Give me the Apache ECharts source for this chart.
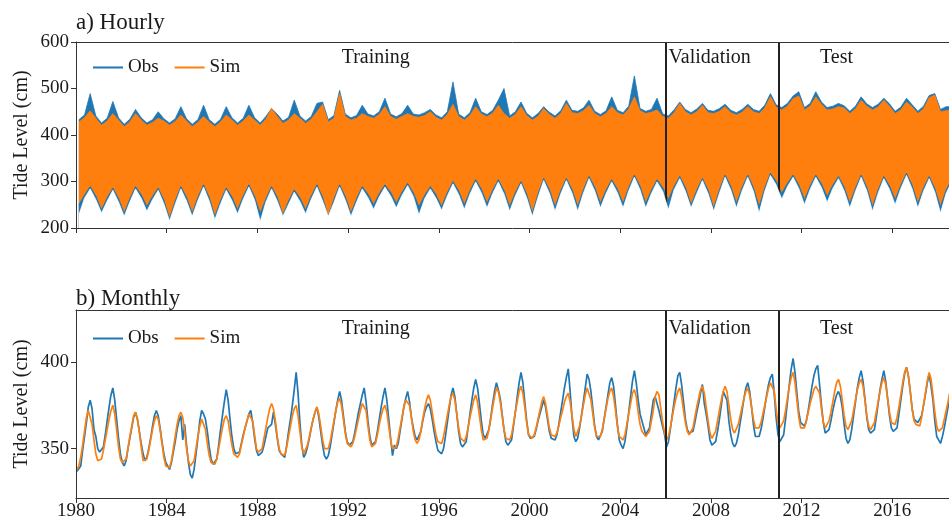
<!DOCTYPE html>
<html>
<head>
<meta charset="utf-8">
<script src="https://cdn.jsdelivr.net/npm/echarts@6.0.0/dist/echarts.min.js"></script>
<style>
html, body { margin: 0; padding: 0; background: #fff; }
#chart { width: 949px; height: 523px; }
</style>
</head>
<body>
<div id="chart"></div>
<script>
var startYear = 1980;
var xMin = 1980, xMax = 2018.5;   // the figure is cut off just after mid-2018
var periodNames = ['Training', 'Validation', 'Test'];
var periodBreaks = [1980, 2006, 2011, 2018.5];

// hourly panel: envelope of the dense hourly trace, 4 readings per year (1980-2018)
var obsHourlyHigh = [
  433,443,489,441, 426,436,472,437, 423,434,455,437, 426,433,450,435, 426,435,461,435,
  423,433,464,433, 423,434,461,437, 426,436,464,437, 426,440,457,445, 430,438,475,441,
  430,440,468,471, 433,442,496,445, 437,442,464,445, 441,450,479,445, 439,446,464,445,
  443,448,455,443, 437,450,514,445, 437,448,479,450, 444,453,475,500, 441,450,471,447,
  437,446,461,449, 441,452,475,453, 451,458,475,451, 444,452,482,453, 448,462,527,457,
  451,455,479,445, 441,454,471,455, 448,456,468,453, 451,457,466,453, 448,455,466,455,
  451,464,489,465, 459,468,484,493, 459,468,493,471, 459,462,468,463, 451,462,482,467,
  459,466,479,467, 451,460,479,465, 451,462,485,489, 455,461,461,455
];
var obsHourlyLow = [
  228,264,284,261, 232,258,281,256, 225,256,284,264, 236,261,281,252, 215,251,284,258,
  225,259,288,258, 218,252,281,259, 230,262,288,260, 214,256,284,258, 225,251,277,257,
  230,262,288,258, 225,255,288,260, 225,256,284,265, 240,267,288,269, 243,270,291,268,
  228,263,284,264, 238,269,295,272, 240,273,299,276, 243,274,299,273, 236,269,295,265,
  225,266,302,275, 236,273,302,275, 236,275,306,280, 243,274,299,276, 243,280,309,282,
  243,274,299,279, 239,282,306,279, 243,274,302,274, 236,275,309,282, 243,280,309,279,
  232,279,313,293, 262,289,309,285, 250,283,309,287, 255,285,306,280, 243,279,309,280,
  236,275,306,283, 250,285,313,284, 243,279,306,277, 232,275,300,277
];
var simHourlyHigh = [
  428,437,452,436, 421,430,446,432, 418,428,446,432, 421,427,436,430, 421,429,443,430,
  418,427,440,428, 418,428,443,432, 421,430,443,432, 421,434,457,440, 425,432,446,436,
  425,434,450,466, 428,436,489,440, 432,436,446,440, 436,444,461,440, 434,440,446,440,
  438,442,450,438, 432,444,466,440, 432,442,461,445, 439,447,464,446, 436,444,461,442,
  432,440,457,444, 436,446,468,448, 446,452,464,446, 439,446,461,448, 443,456,482,452,
  446,449,454,440, 436,448,468,450, 443,450,464,448, 446,451,461,448, 443,449,461,450,
  446,458,482,460, 454,462,478,484, 454,462,482,466, 454,456,461,458, 446,456,475,462,
  454,460,475,462, 446,454,471,460, 446,456,480,486, 450,452,455,450
];
var simHourlyLow = [
  250,271,289,269, 239,265,286,264, 232,263,289,272, 246,268,286,260, 221,258,289,266,
  232,266,293,266, 225,259,286,267, 239,269,293,268, 232,263,289,266, 228,258,282,265,
  239,269,293,266, 225,262,293,268, 232,263,289,273, 250,274,293,277, 253,277,296,276,
  246,270,289,272, 246,276,300,280, 250,280,304,284, 253,281,304,281, 246,276,300,273,
  232,273,307,283, 246,280,307,283, 246,282,311,288, 253,281,304,284, 253,287,314,290,
  253,281,304,287, 261,289,311,287, 250,281,307,282, 243,282,314,290, 253,287,314,287,
  246,286,318,301, 275,296,314,293, 261,290,314,295, 268,292,311,288, 253,286,314,288,
  246,282,311,291, 261,292,318,292, 253,286,311,285, 246,282,305,285
];

// monthly panel: Jan..Dec for each year 1980-2018
var obsMonthly = [
  337,336,340,349,357,365,374,378,373,361,357,350,
  348,347,351,358,366,374,381,385,378,367,356,347,
  342,340,343,350,356,362,368,371,367,360,353,347,
  343,345,350,356,363,369,372,369,362,354,347,342,
  340,338,342,348,354,361,366,369,355,364,352,342,
  335,333,338,347,356,366,372,370,367,360,351,344,
  341,340,344,352,361,369,377,384,378,367,357,350,
  347,346,348,353,358,362,366,370,372,365,356,349,
  346,345,348,352,357,362,363,364,371,364,356,349,
  347,346,345,352,360,367,375,384,394,382,365,352,
  345,347,351,356,362,367,371,374,368,360,352,346,
  344,346,351,358,365,372,378,383,378,369,360,354,
  352,351,354,359,365,371,376,381,385,377,366,357,
  352,351,354,360,367,374,380,385,378,367,356,346,
  352,350,353,360,367,374,379,383,377,368,362,357,
  355,356,360,366,371,374,376,373,367,360,354,349,
  348,347,350,357,365,373,381,385,380,370,360,353,
  351,350,354,362,370,378,385,390,385,376,366,358,
  356,357,361,368,376,383,388,384,379,370,361,354,
  352,351,355,363,371,380,388,394,388,377,366,358,
  356,355,357,361,366,370,374,378,374,367,360,356,
  356,355,358,364,371,378,385,391,396,383,368,357,
  354,356,362,369,377,385,393,390,383,373,363,357,
  355,356,360,367,374,381,388,391,386,375,364,355,
  352,350,354,362,371,380,389,395,388,378,370,366,
  362,358,358,362,370,378,380,380,372,367,366,358,
  351,354,361,369,377,385,392,394,387,377,367,361,
  359,358,360,365,371,376,382,387,376,370,363,355,
  352,351,354,360,367,375,383,384,378,366,358,353,
  351,353,358,365,372,379,385,388,383,374,364,357,
  356,357,361,367,374,381,387,391,393,382,368,358,
  354,353,358,367,377,387,396,402,394,382,371,365,
  364,363,366,372,379,386,392,396,398,387,375,365,
  359,358,361,366,372,377,381,383,380,374,364,356,
  353,355,361,369,377,385,391,395,389,379,368,361,
  359,358,361,368,376,384,390,395,389,379,369,362,
  360,359,362,370,378,386,393,397,392,383,373,367,
  366,365,364,369,375,381,388,393,386,378,366,357,
  355,353,357,362,368,374,382,388,384,375,366,360
];
var simMonthly = [
  338,340,345,352,360,368,372,371,364,355,347,343,
  343,344,349,355,361,367,372,375,370,361,351,344,
  342,341,344,350,357,363,369,371,367,360,351,343,
  342,344,349,355,361,366,369,367,361,353,345,340,
  339,339,343,350,357,364,369,371,368,360,350,343,
  340,339,343,350,357,363,367,366,361,353,346,342,
  342,341,344,350,356,362,367,369,366,359,352,347,
  346,345,347,352,357,362,366,370,371,366,358,350,
  348,347,350,356,362,368,373,376,373,366,357,350,
  347,346,346,351,357,363,369,373,375,369,360,351,
  347,348,352,357,362,367,371,374,370,363,355,350,
  349,350,354,360,366,372,377,379,375,367,359,353,
  352,351,353,357,362,367,372,376,377,372,363,355,
  351,350,353,358,364,369,373,375,371,363,355,350,
  349,351,356,362,368,374,378,379,375,368,360,355,
  353,355,360,367,373,378,381,378,371,364,358,354,
  353,353,357,363,369,375,380,382,378,370,362,356,
  355,354,357,362,368,373,378,381,377,369,361,355,
  355,356,361,367,374,380,385,383,377,369,361,356,
  356,355,358,364,371,377,383,386,382,374,365,358,
  357,356,358,362,367,372,377,380,376,369,362,358,
  358,357,359,363,368,372,377,380,382,377,369,361,
  357,358,363,369,375,381,385,384,378,370,362,357,
  356,357,361,367,373,379,383,385,380,372,363,357,
  356,355,358,364,370,376,382,384,380,371,364,360,
  359,357,357,360,366,372,380,383,381,373,365,359,
  355,357,362,368,374,379,383,385,380,372,365,360,
  358,358,362,368,374,379,384,386,382,374,366,359,
  356,356,360,366,372,378,383,386,383,375,367,361,
  359,360,364,369,374,379,383,385,381,374,367,362,
  361,362,365,370,375,380,385,388,389,383,373,365,
  362,362,366,372,379,386,391,394,388,378,368,362,
  361,362,366,371,376,380,384,386,387,382,373,365,
  362,362,366,371,377,383,388,390,386,378,369,363,
  361,362,366,372,378,384,388,390,386,378,369,363,
  361,361,365,371,377,383,388,391,387,379,371,365,
  364,364,368,374,381,388,394,397,392,383,373,366,
  364,363,363,368,375,382,389,394,390,381,371,363,
  360,359,362,367,372,377,383,388,385,377,369,363
];

var blue = '#1f77b4';
var orange = '#ff7f0e';
var ink = '#1a1a1a';
var frame = '#333';
var serif = '"Liberation Serif", "Times New Roman", serif';

function toPoints(vals, perYear) {
  var out = [];
  for (var i = 0; i < vals.length; i++) {
    out.push([startYear + (i + 0.5) / perYear, vals[i]]);
  }
  return out;
}

// filled envelope pieces: each area runs down to the axis floor,
// later ones paint over earlier ones
function envelope(name, vals, color, z) {
  return {
    name: name, type: 'line', xAxisIndex: 0, yAxisIndex: 0, z: z,
    symbol: 'none', silent: true, color: color,
    lineStyle: {width: 0.8, color: color},
    areaStyle: {color: color, opacity: 1, origin: 'start'},
    data: toPoints(vals, 4)
  };
}

function periodMarks(xi, yi, dy) {
  var lines = [], areas = [];
  for (var i = 1; i < periodBreaks.length - 1; i++) lines.push({xAxis: periodBreaks[i]});
  var labelPos = [
    {position: 'insideTop', distance: 6, offset: [5, dy]},
    {position: 'insideTopLeft', distance: 3, offset: [0, 3 + dy]},
    {position: 'insideTopLeft', distance: 3, offset: [38, 3 + dy]}
  ];
  for (var j = 0; j < periodNames.length; j++) {
    areas.push([
      {name: periodNames[j], xAxis: periodBreaks[j], label: labelPos[j]},
      {xAxis: periodBreaks[j + 1]}
    ]);
  }
  return {
    name: 'periods', type: 'line', xAxisIndex: xi, yAxisIndex: yi, z: 8,
    silent: true, data: [],
    markLine: {
      silent: true, symbol: ['none', 'none'], label: {show: false},
      lineStyle: {color: '#222', width: 2, type: 'solid'},
      data: lines
    },
    markArea: {
      silent: true,
      itemStyle: {color: 'rgba(0,0,0,0)'},
      label: {show: true, color: ink, fontFamily: serif, fontSize: 20},
      data: areas
    }
  };
}

function xAxisCfg(idx, showLabels) {
  return {
    type: 'value', gridIndex: idx, min: xMin, max: xMax, interval: 4, z: 10,
    splitLine: {show: false},
    axisLine: {onZero: false, lineStyle: {color: frame, width: 1}},
    axisTick: {show: true, inside: false, length: 5, lineStyle: {color: frame}},
    axisLabel: {
      show: showLabels, color: ink, fontFamily: serif, fontSize: 19, margin: 4,
      showMaxLabel: false,
      formatter: function (v) { return String(v); }
    }
  };
}
// plain top spine
function topSpine(idx) {
  return {
    type: 'value', gridIndex: idx, position: 'top', min: xMin, max: xMax, z: 10,
    splitLine: {show: false}, axisTick: {show: false}, axisLabel: {show: false},
    axisLine: {show: true, onZero: false, lineStyle: {color: frame, width: 1}}
  };
}

function yAxisCfg(idx, extra) {
  var base = {
    type: 'value', gridIndex: idx, z: 10,
    name: 'Tide Level (cm)', nameLocation: 'middle', nameGap: 44, nameRotate: 90,
    nameMoveOverlap: false,
    nameTextStyle: {color: ink, fontFamily: serif, fontSize: 20},
    splitLine: {show: false},
    axisLine: {show: true, onZero: false, lineStyle: {color: frame, width: 1}},
    axisTick: {show: true, inside: false, length: 5, lineStyle: {color: frame}},
    axisLabel: {color: ink, fontFamily: serif, fontSize: 19, margin: 7}
  };
  for (var k in extra) {
    if (k === 'axisLabel' || k === 'axisTick') {
      for (var kk in extra[k]) base[k][kk] = extra[k][kk];
    } else base[k] = extra[k];
  }
  return base;
}

var legendCfg = function (top) {
  return {
    data: ['Obs', 'Sim'], left: 93, top: top, icon: 'rect', padding: 0,
    itemWidth: 30, itemHeight: 2, itemGap: 16,
    textStyle: {color: ink, fontFamily: serif, fontSize: 19}
  };
};

var option = {
  backgroundColor: '#fff',
  animation: false,
  title: [
    {text: 'a) Hourly', left: 76, top: 11, padding: 0,
     textStyle: {color: ink, fontFamily: serif, fontSize: 23, fontWeight: 'normal'}},
    {text: 'b) Monthly', left: 76, top: 287, padding: 0,
     textStyle: {color: ink, fontFamily: serif, fontSize: 23, fontWeight: 'normal'}}
  ],
  legend: [legendCfg(58), legendCfg(329)],
  grid: [
    {left: 76, right: 0, top: 42, height: 186, outerBoundsMode: 'none'},
    {left: 76, right: 0, top: 310, height: 188, outerBoundsMode: 'none'}
  ],
  xAxis: [xAxisCfg(0, false), xAxisCfg(1, true), topSpine(0), topSpine(1)],
  yAxis: [
    yAxisCfg(0, {min: 200, max: 600, interval: 100}),
    yAxisCfg(1, {min: 321.5, max: 430,
      axisLabel: {customValues: [350, 400]},
      axisTick: {customValues: [350, 400]}})
  ],
  series: [
    envelope('Obs', obsHourlyHigh, blue, 2),
    envelope('Sim', simHourlyHigh, orange, 3),
    envelope('obsLowEdge', simHourlyLow, blue, 4),
    envelope('floor', obsHourlyLow, '#ffffff', 5),
    periodMarks(0, 0, 0),
    {name: 'Obs', type: 'line', xAxisIndex: 1, yAxisIndex: 1, z: 3,
     symbol: 'none', color: blue, lineStyle: {width: 1.7, color: blue},
     data: toPoints(obsMonthly, 12)},
    {name: 'Sim', type: 'line', xAxisIndex: 1, yAxisIndex: 1, z: 4,
     symbol: 'none', color: orange, lineStyle: {width: 1.7, color: orange},
     data: toPoints(simMonthly, 12)},
    periodMarks(1, 1, 3)
  ]
};

var chart = echarts.init(document.getElementById('chart'), null, {renderer: 'canvas'});
chart.setOption(option);
</script>
</body>
</html>
